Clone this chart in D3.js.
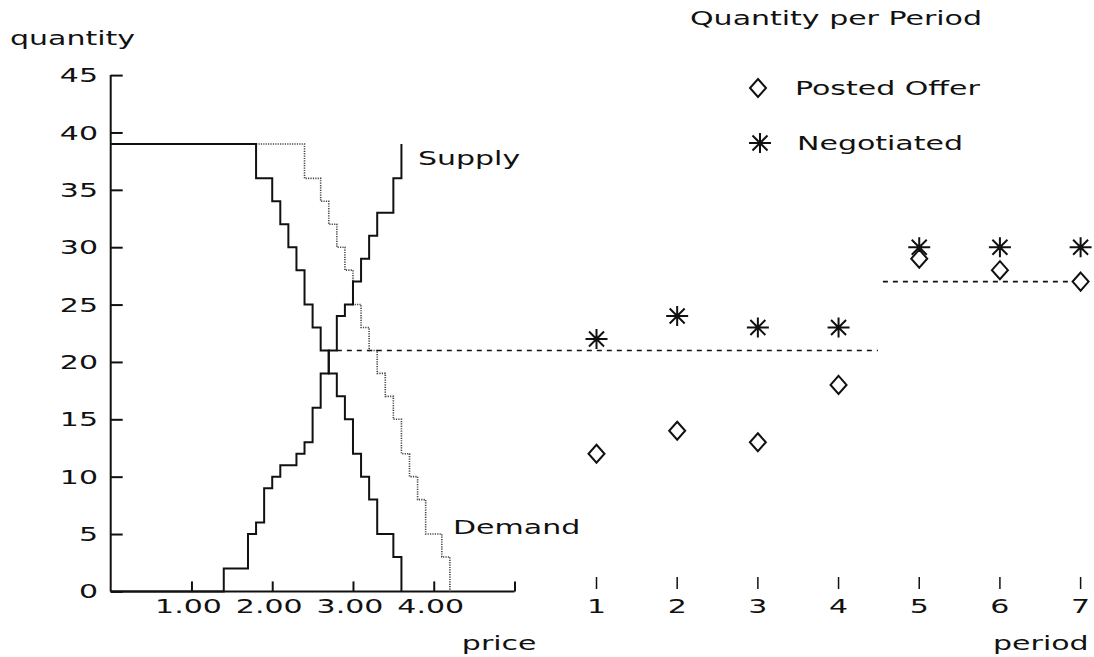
<!DOCTYPE html>
<html>
<head>
<meta charset="utf-8">
<script src="https://cdn.jsdelivr.net/npm/d3@7"></script>
<style>
  html, body { margin: 0; padding: 0; background: #fff; }
  svg { display: block; }
  text { font-family: "DejaVu Sans", sans-serif; fill: #111; }
</style>
</head>
<body>
<svg id="chart" width="1094" height="657"></svg>
<script>
// ---------- data ----------
const demandPrices   = [0, 1.8, 2.0, 2.1, 2.2, 2.3, 2.4, 2.5, 2.6, 2.7, 2.8, 2.9, 3.0, 3.1, 3.2, 3.3, 3.5, 3.6];
const demandQty      = [39, 36, 34, 32, 30, 28, 25, 23, 21, 19, 17, 15, 12, 10, 8, 5, 3, 0];
const shiftedPrices  = [1.8, 2.4, 2.6, 2.7, 2.8, 2.9, 3.0, 3.1, 3.2, 3.3, 3.4, 3.5, 3.6, 3.7, 3.8, 3.9, 4.1, 4.2];
const shiftedQty     = [39, 36, 34, 32, 30, 28, 25, 23, 21, 19, 17, 15, 12, 10, 8, 5, 3, 0];
const supplyPrices   = [0, 1.4, 1.7, 1.8, 1.9, 2.0, 2.1, 2.3, 2.4, 2.5, 2.6, 2.7, 2.8, 2.9, 3.0, 3.1, 3.2, 3.3, 3.5, 3.6];
const supplyQty      = [0, 2, 5, 6, 9, 10, 11, 12, 13, 16, 19, 21, 24, 25, 27, 29, 31, 33, 36, 39];
const periods        = [1, 2, 3, 4, 5, 6, 7];
const postedOffer    = [12, 14, 13, 18, 29, 28, 27];
const negotiated     = [22, 24, 23, 23, 30, 30, 30];
const priceTicks     = [1, 2, 3, 4];
const priceTickLabels = ["1.00", "2.00", "3.00", "4.00"];
const qtyTicks       = [0, 5, 10, 15, 20, 25, 30, 35, 40, 45];
const eqQtyEarly     = 21;   // predicted quantity, periods 1-4
const eqQtyLate      = 27;   // predicted quantity, periods 5-7
const eqEarlyStartPrice = 2.8;
const eqSplitPeriod  = 4.5;

// ---------- scales ----------
const svg = d3.select("#chart");
const x = d3.scaleLinear().domain([0, 5]).range([110.7, 514.5]);
const y = d3.scaleLinear().domain([0, 45]).range([591.4, 75.1]);
const xp = d3.scaleLinear().domain([1, 7]).range([596.5, 1080.6]);

const FS = 20, SX = 1.5;
function label(px, py, str, anchor) {
  svg.append("text")
    .attr("transform", `translate(${px},${py}) scale(${SX},1)`)
    .attr("text-anchor", anchor || "start")
    .attr("dominant-baseline", "central")
    .style("font-size", FS + "px")
    .text(str);
}

// ---------- left axes ----------
const yAxis = d3.axisRight(y).tickValues(qtyTicks).tickSize(12).tickFormat("");
svg.append("g").attr("transform", `translate(${x(0)},0)`).call(yAxis)
  .call(g => g.select(".domain").attr("d", `M0,${y(0)}V${y(45)}`))
  .call(g => g.selectAll("line,path").attr("stroke", "#111").attr("stroke-width", 2));
qtyTicks.forEach(v => label(98, y(v), String(v), "end"));

const xAxis = d3.axisTop(x).tickValues([1, 2, 3, 4, 5]).tickSize(10).tickFormat("");
svg.append("g").attr("transform", `translate(0,${y(0)})`).call(xAxis)
  .call(g => g.select(".domain").attr("d", `M${x(0)},0H${x(5)}`))
  .call(g => g.selectAll("line,path").attr("stroke", "#111").attr("stroke-width", 2));
priceTicks.forEach((v, i) => label(x(v) - 3, 606, priceTickLabels[i], "middle"));

label(10, 38, "quantity", "start");
label(x(5) + 22, 643, "price", "end");

// ---------- step curves ----------
const step = d3.line().x(d => x(d[0])).y(d => y(d[1])).curve(d3.curveStepAfter);
svg.append("path").datum(d3.zip(shiftedPrices, shiftedQty))
  .attr("d", step).attr("fill", "none")
  .attr("stroke", "#444").attr("stroke-width", 1.6).attr("stroke-dasharray", "1.2,1.2");
svg.append("path").datum(d3.zip(demandPrices, demandQty))
  .attr("d", step).attr("fill", "none").attr("stroke", "#111").attr("stroke-width", 2);
svg.append("path").datum(d3.zip(supplyPrices, supplyQty))
  .attr("d", step).attr("fill", "none").attr("stroke", "#111").attr("stroke-width", 2);

label(418, 158, "Supply", "start");
label(453, 527, "Demand", "start");

// ---------- equilibrium dashed lines ----------
svg.append("line")
  .attr("x1", x(eqEarlyStartPrice)).attr("x2", xp(eqSplitPeriod) - 1)
  .attr("y1", y(eqQtyEarly)).attr("y2", y(eqQtyEarly))
  .attr("stroke", "#111").attr("stroke-width", 1.6).attr("stroke-dasharray", "5,5");
svg.append("line")
  .attr("x1", xp(eqSplitPeriod) + 4).attr("x2", xp(7))
  .attr("y1", y(eqQtyLate)).attr("y2", y(eqQtyLate))
  .attr("stroke", "#111").attr("stroke-width", 1.6).attr("stroke-dasharray", "5,5");

// ---------- right panel ----------
periods.forEach(p => {
  svg.append("line").attr("x1", xp(p)).attr("x2", xp(p))
    .attr("y1", 577).attr("y2", 589).attr("stroke", "#111").attr("stroke-width", 1.5);
  label(xp(p), 606, String(p), "middle");
});
label(xp(7) + 8, 643, "period", "end");
label(836, 18, "Quantity per Period", "middle");

const diamondPath = "M0,-9L8,0L0,9L-8,0Z";
function asterisk(g) {
  g.append("path")
    .attr("d", "M-11,0H11M0,-10V10M-7.5,-7.5L7.5,7.5M-7.5,7.5L7.5,-7.5")
    .attr("stroke", "#111").attr("stroke-width", 2).attr("fill", "none");
}
svg.selectAll("g.neg").data(d3.zip(periods, negotiated)).join("g")
  .attr("class", "neg")
  .attr("transform", d => `translate(${xp(d[0])},${y(d[1])})`)
  .each(function () { asterisk(d3.select(this)); });
svg.selectAll("path.po").data(d3.zip(periods, postedOffer)).join("path")
  .attr("class", "po")
  .attr("transform", d => `translate(${xp(d[0])},${y(d[1])})`)
  .attr("d", diamondPath).attr("fill", "#fff").attr("stroke", "#111").attr("stroke-width", 2);

// legend
svg.append("path").attr("transform", "translate(758,88)").attr("d", diamondPath)
  .attr("fill", "#fff").attr("stroke", "#111").attr("stroke-width", 2);
label(795, 88, "Posted Offer", "start");
asterisk(svg.append("g").attr("transform", "translate(760,143)"));
label(797, 143, "Negotiated", "start");
</script>
</body>
</html>
